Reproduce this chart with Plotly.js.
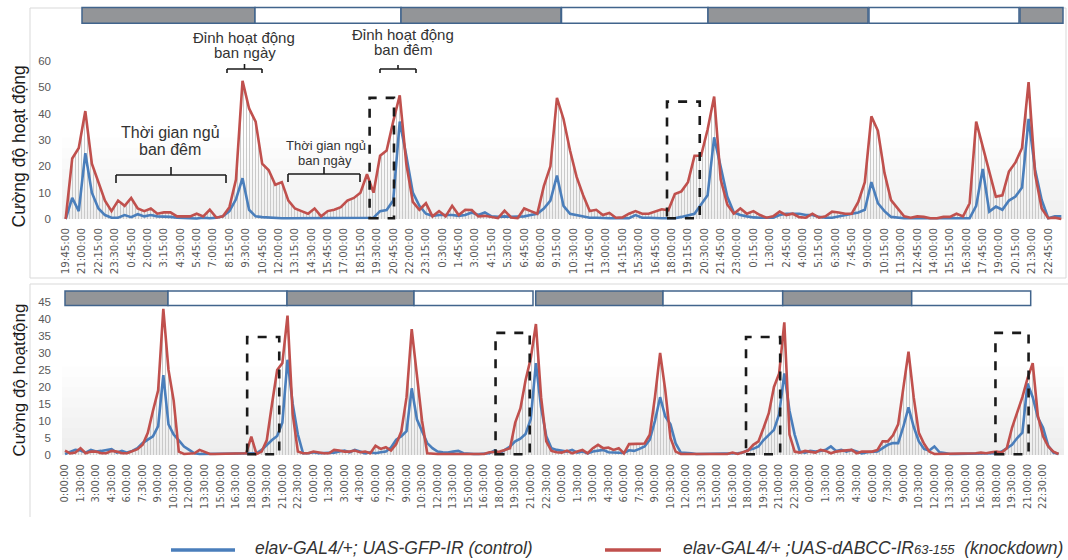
<!DOCTYPE html>
<html><head><meta charset="utf-8">
<script src="https://cdn.plot.ly/plotly-3.0.1.min.js"></script>
<style>html,body{margin:0;padding:0;background:#fff}#chart{width:1068px;height:560px}</style>
</head><body><div id="chart"></div>
<script>
// ---------- DATA (30-min steps) ----------
// Top panel: time in hours from 19:45 (day 1)
const topStepHours = 0.5;
const topControl = [
  0, 8, 3, 25, 10, 4, 1.5, 0.5, 0.5, 1.5,
  0.7, 1.8, 1, 1.5, 1, 1, 0.8, 0.5, 0.3, 0.3,
  0.2, 0.5, 0.3, 0.5, 1, 3, 7.5, 15.5, 3.5, 1,
  0.7, 0.5, 0.3, 0.3, 0.3, 0.3, 0.3, 0.3, 0.3, 0.3,
  0.3, 0.3, 0.3, 0.3, 0.3, 0.3, 0.3, 0.5, 3, 3.4,
  7, 37, 24, 10, 5, 2, 1.2, 1.5, 1.5, 1.5,
  1.2, 1.5, 2.5, 1.5, 2.5, 1, 0.8, 1, 0.8, 1,
  1, 1.5, 2, 4, 7, 16.5, 5, 2, 1.5, 0.8,
  0.5, 0.5, 0.3, 0.3, 0.3, 0.3, 0.3, 1.5, 0.5, 0.5,
  0.3, 0.3, 0.3, 0.3, 0.8, 1.5, 2, 5.5, 9, 31,
  20, 8.5, 2.5, 1.5, 1, 0.6, 0.5, 0.5, 0.5, 1.5,
  2, 2, 2, 1.5, 1.5, 0.8, 0.5, 0.5, 1, 1.5,
  2, 2.5, 3.5, 14, 6, 3, 0.8, 0.5, 0.3, 0.3,
  0.3, 0.3, 0.3, 0.3, 0.3, 0.3, 0.3, 0.3, 0.3, 5,
  19, 2.8, 4.7, 3.5, 7, 8.5, 12, 38, 18.6, 7.2,
  0.3, 1, 1
];
const topKnockdown = [
  0, 23, 27, 41, 21, 14, 7, 3, 7, 5,
  8, 4, 3, 4, 2, 2.5, 2.5, 1, 1, 1,
  2, 1, 3.5, 0.5, 1, 4.5, 15, 52.5, 42, 37,
  21, 18.5, 13, 14, 7, 4, 3, 2, 4, 1,
  3, 3.5, 4.5, 7, 8, 10, 17, 10, 24, 26,
  37, 47, 21, 6.5, 3.5, 6, 1, 3, 1, 5,
  1.5, 3.5, 3.4, 1, 1.2, 0.7, 0.3, 3.2, 0.6, 0.3,
  4, 3, 2, 12.5, 20, 46, 38, 26, 16, 9,
  3, 3.5, 1.5, 2.3, 0.5, 0.6, 2, 3, 2, 2,
  3, 3.7, 3.3, 9.5, 10.5, 14, 24, 24, 34, 46.5,
  15, 5.5, 2, 4, 2, 3, 1.5, 0.5, 1, 2.8,
  1.5, 2, 0.7, 0.5, 2, 0.5, 1, 2.8, 2.5, 2,
  2, 6.5, 14, 39, 33.5, 17.5, 7.2, 4, 1, 0.5,
  1, 0.8, 0.3, 0.3, 0.8, 0.8, 2, 1, 6, 37,
  27.5, 17.3, 8.5, 9, 18, 21.5, 27, 52, 17, 4,
  0.3, 0.5, 0
];
const topTickStepHours = 1.25;
const topTickLabels = ["19:45:00","21:00:00","22:15:00","23:30:00","0:45:00","2:00:00","3:15:00","4:30:00","5:45:00","7:00:00",
  "8:15:00","9:30:00","10:45:00","12:00:00","13:15:00","14:30:00","15:45:00","17:00:00","18:15:00","19:30:00",
  "20:45:00","22:00:00","23:15:00","0:30:00","1:45:00","3:00:00","4:15:00","5:30:00","6:45:00","8:00:00",
  "9:15:00","10:30:00","11:45:00","13:00:00","14:15:00","15:30:00","16:45:00","18:00:00","19:15:00","20:30:00",
  "21:45:00","23:00:00","0:15:00","1:30:00","2:45:00","4:00:00","5:15:00","6:30:00","7:45:00","9:00:00",
  "10:15:00","11:30:00","12:45:00","14:00:00","15:15:00","16:30:00","17:45:00","19:00:00","20:15:00","21:30:00","22:45:00"];
const topYTicks = [0, 10, 20, 30, 40, 50, 60];
// highlighted windows (start h, end h, top value)
const topWindows = [[23.2, 25.06, 46], [45.9, 48.4, 44.6]];

// Bottom panel: time in hours from 0:00 (day 1)
const bottomStepHours = 0.5;
const bottomControl = [
  0.3, 1, 1.5, 1.3, 0.7, 1.5, 1, 1.2, 1.5, 1.7,
  0.7, 1.2, 0.7, 1.2, 2, 3.5, 4.5, 5.5, 8.5, 23.5,
  9, 6, 4.3, 2.5, 1.5, 0.5, 0.3, 0.3, 0.3, 0.3,
  0.3, 0.3, 0.3, 0.3, 0.5, 0.5, 0.5, 0.5, 1.5, 3,
  4.4, 5.6, 9.5, 28, 15, 6, 0.5, 0.5, 0.8, 0.5,
  0.5, 0.5, 0.7, 1, 1.3, 0.8, 1.5, 1, 0.5, 0.8,
  0.5, 0.8, 1, 2.2, 4.5, 5.5, 7, 19.6, 10.5, 7,
  3.5, 2, 1, 0.8, 0.7, 1, 1.2, 0.5, 0.3, 0.3,
  0.3, 0.3, 0.5, 1.3, 0.5, 1.5, 2.5, 4, 4.8, 6.2,
  10.5, 27, 14, 5.5, 2, 1.5, 1.2, 1, 1.5, 0.7,
  1, 0.5, 1, 1.2, 1.5, 0.8, 0.7, 0.5, 0.6, 1.4,
  1.2, 1.8, 2.5, 4.5, 10, 17, 11.3, 9, 3.4, 0.7,
  0.7, 0.5, 0.3, 0.3, 0.3, 0.3, 0.3, 0.3, 0.3, 0.5,
  0.5, 0.7, 1.5, 1.8, 2.5, 4.4, 6, 7.4, 12, 24,
  13, 6, 1, 0.7, 1.2, 1, 1.2, 1.5, 2.5, 1.2,
  1.5, 1, 1.5, 1, 0.5, 0.8, 1, 1, 2, 3,
  3.5, 3.5, 8.3, 14, 8.3, 4, 1.8, 1.3, 2.5, 0.8,
  0.6, 0.3, 0.3, 0.3, 0.3, 0.3, 0.3, 0.3, 0.3, 0.3,
  0.5, 1, 2, 3, 5, 6.6, 21, 17, 11, 8,
  2.7, 0.7, 0.3
];
const bottomKnockdown = [
  1.3, 0.5, 0.7, 2, 0.5, 1, 1, 0.5, 0.5, 1.2,
  1, 0.5, 0.5, 1.2, 1.7, 3, 6.5, 13, 19, 43,
  25, 16, 1, 0.3, 0.3, 0.5, 1.5, 0.8, 0.3, 0.3,
  0.3, 0.3, 0.3, 0.3, 0.5, 0.5, 5.4, 0.3, 1, 4.4,
  15, 25, 27, 41, 12, 1, 0.5, 0.5, 1, 0.7,
  0.5, 0.5, 1.5, 1.3, 1, 1, 1.3, 0.8, 1, 0.5,
  2.7, 1.8, 2.3, 1.3, 3.2, 7, 17, 37, 23, 10,
  0.5, 0.3, 0.3, 0.3, 0.3, 0.3, 0.3, 0.3, 0.3, 0.3,
  0.3, 0.3, 0.8, 1, 1, 1.5, 2, 9.5, 13.7, 22,
  28.4, 38.5, 17, 4, 1.2, 0.8, 0.7, 1.3, 0.5, 1,
  1.5, 0.5, 2, 3, 2, 2.2, 1.5, 2, 0.5, 3.2,
  3.2, 3.2, 3.4, 6, 17, 30, 19, 5, 1, 0.3,
  0.3, 0.3, 0.3, 0.3, 0.3, 0.3, 0.3, 0.3, 0.3, 0.7,
  0.3, 0.8, 1.3, 3, 4, 8, 12.3, 20, 24, 39,
  6, 1, 0.7, 1.2, 1, 0.7, 1.5, 1.2, 0.5, 1,
  1.2, 1.3, 1.5, 0.5, 1, 1, 1, 1.5, 4, 4,
  5.8, 9, 19, 30.4, 17, 6.5, 3.3, 1, 0.3, 0.3,
  0.3, 0.3, 0.3, 0.5, 0.5, 0.5, 0.5, 0.7, 0.5, 0.8,
  1, 0.7, 2, 8, 12.7, 17, 22.5, 27, 11.5, 5.5,
  2.5, 1, 0.3
];
const bottomTickStepHours = 1.5;
const dayTickLabels = ["0:00:00","1:30:00","3:00:00","4:30:00","6:00:00","7:30:00","9:00:00","10:30:00",
  "12:00:00","13:30:00","15:00:00","16:30:00","18:00:00","19:30:00","21:00:00","22:30:00"];
const bottomTickLabels = [].concat(dayTickLabels, dayTickLabels, dayTickLabels, dayTickLabels);
const bottomYTicks = [0, 5, 10, 15, 20, 25, 30, 35, 40, 45];
const bottomWindows = [[17.6, 20.7, 34.7], [41.6, 44.9, 35.9], [65.8, 69.1, 34.7], [89.9, 93.1, 35.9]];

const seriesNames = ["elav-GAL4/+; UAS-GFP-IR (control)", "elav-GAL4/+ ;UAS-dABCC-IR63-155 (knockdown)"];

// ---------- DRAWING ----------
const W = 1068, H = 560;
const px = x => x / W, py = y => 1 - y / H;
const BLUE = '#4a7ebb', RED = '#c0504d';

function xsFor(arr, step) { return arr.map((_, i) => i * step); }

function fillTrace(vals, step, xa, ya) {
  return {x: xsFor(vals, step), y: vals, xaxis: xa, yaxis: ya, type: 'scatter', mode: 'lines',
    line: {width: 0, color: 'rgba(0,0,0,0)'}, fill: 'tozeroy', fillcolor: 'rgba(255,255,255,0)',
    fillpattern: {shape: '|', fgcolor: '#c9c9c9', bgcolor: 'rgba(255,255,255,0)', size: 3, solidity: 0.33},
    hoverinfo: 'skip', showlegend: false};
}
function lineTrace(vals, step, xa, ya, color, name) {
  return {x: xsFor(vals, step), y: vals, xaxis: xa, yaxis: ya, type: 'scatter', mode: 'lines', name: name,
    line: {width: 2.6, color: color}, showlegend: false};
}

const traces = [
  fillTrace(topKnockdown, topStepHours, 'x', 'y'),
  lineTrace(topControl, topStepHours, 'x', 'y', BLUE, seriesNames[0]),
  lineTrace(topKnockdown, topStepHours, 'x', 'y', RED, seriesNames[1]),
  fillTrace(bottomKnockdown, bottomStepHours, 'x2', 'y2'),
  lineTrace(bottomControl, bottomStepHours, 'x2', 'y2', BLUE, seriesNames[0]),
  lineTrace(bottomKnockdown, bottomStepHours, 'x2', 'y2', RED, seriesNames[1])
];

const shapes = [];
const annotations = [];
function pline(x0, y0, x1, y1, color, width, dash) {
  shapes.push({type: 'line', xref: 'paper', yref: 'paper', x0: px(x0), y0: py(y0), x1: px(x1), y1: py(y1),
    line: {color: color, width: width, dash: dash || 'solid'}});
}
function prect(x0, y0, x1, y1, fill, lineColor, lw) {
  shapes.push({type: 'rect', xref: 'paper', yref: 'paper', x0: px(x0), y0: py(y1), x1: px(x1), y1: py(y0),
    fillcolor: fill, line: {color: lineColor, width: lw}});
}
function bracket(x0, x1, y, endDown, midUp) {
  const c = '#1a1a1a', w = 1.6;
  pline(x0, y, x1, y, c, w);
  pline(x0, y, x0, y + endDown, c, w);
  pline(x1, y, x1, y + endDown, c, w);
  const m = (x0 + x1) / 2;
  pline(m, y, m, y - midUp, c, w);
}
function txt(t, x, y, size, extra) {
  annotations.push(Object.assign({text: t, xref: 'paper', yref: 'paper', x: px(x), y: py(y),
    xanchor: 'center', yanchor: 'middle', showarrow: false,
    font: {family: 'Liberation Sans, Arial, sans-serif', size: size, color: '#333333'}}, extra || {}));
}

// chart frames
prect(30, 8, 1066, 278, 'rgba(0,0,0,0)', '#d9d9d9', 1);
pline(30, 284, 1068, 284, '#d9d9d9', 1);
pline(30, 284, 30, 517, '#d9d9d9', 1);

// faint plot-area gradient (stacked translucent bands)
[31, 27, 23, 19, 15, 11, 7, 3].forEach(v => shapes.push({type: 'rect', xref: 'paper', yref: 'y',
  x0: px(62), x1: px(1064), y0: 0, y1: v, fillcolor: 'rgba(0,0,0,0.006)', line: {width: 0}, layer: 'below'}));
[26, 23, 20, 17, 14, 11, 8, 5, 2].forEach(v => shapes.push({type: 'rect', xref: 'paper', yref: 'y2',
  x0: px(62), x1: px(1064), y0: 0, y1: v, fillcolor: 'rgba(0,0,0,0.006)', line: {width: 0}, layer: 'below'}));

// light/dark bars
const DARK = '#939598', EDGE = '#41648c';
[[82, 255, 1], [255, 401, 0], [401, 561, 1], [561.5, 708, 0], [708, 868, 1], [869, 1019, 0], [1020, 1063, 1]]
  .forEach(([a, b, d]) => prect(a, 7.5, b, 23.3, d ? DARK : '#ffffff', EDGE, 1.5));
[[65, 168, 1], [168, 287, 0], [287, 414, 1], [414, 533, 0], [535.7, 663, 1], [663, 782.7, 0], [782.7, 911.7, 1], [911.7, 1030.7, 0]]
  .forEach(([a, b, d]) => prect(a, 291, b, 305.5, d ? DARK : '#ffffff', EDGE, 1.5));

// dashed highlight windows
topWindows.forEach(([a, b, top]) => shapes.push({type: 'rect', xref: 'x', yref: 'y', x0: a, x1: b, y0: 0.3, y1: top,
  line: {color: '#1a1a1a', width: 2.6, dash: 'dash'}, fillcolor: 'rgba(0,0,0,0)'}));
bottomWindows.forEach(([a, b, top]) => shapes.push({type: 'rect', xref: 'x2', yref: 'y2', x0: a, x1: b, y0: 0.2, y1: top,
  line: {color: '#1a1a1a', width: 2.6, dash: 'dash'}, fillcolor: 'rgba(0,0,0,0)'}));

// brackets and labels
bracket(116, 226, 175, 8, 8);
bracket(227, 262, 69, 4, 5);
bracket(288, 360, 174, 8, 7);
bracket(380, 416, 69, 4, 4);
txt('Đỉnh hoạt động', 244, 37.5, 15);
txt('ban ngày', 245, 52.5, 15);
txt('Đỉnh hoạt động', 403, 34.5, 15);
txt('ban đêm', 403, 49.5, 15);
txt('Thời gian ngủ', 170, 132.5, 16);
txt('ban đêm', 170, 150, 16);
txt('Thời gian ngủ', 326, 145.5, 13);
txt('ban ngày', 325, 160.5, 13);

// y-axis titles
txt('Cường độ hoạt động', 18.5, 147, 17.5, {textangle: -90, font: {family: 'Liberation Sans, Arial, sans-serif', size: 17.5, color: '#1a1a1a'}});
txt('Cường độ hoạtđộng', 18.5, 380, 17, {textangle: -90, font: {family: 'Liberation Sans, Arial, sans-serif', size: 17, color: '#1a1a1a'}});

// legend
pline(171, 550, 235, 550, BLUE, 3.5);
pline(605, 550, 661, 550, RED, 3.5);
txt('<i>' + seriesNames[0] + '</i>', 253, 548, 17.5, {xanchor: 'left'});
txt('<i>elav-GAL4/+ ;UAS-dABCC-IR<span style="font-size:13px">63-155</span>  (knockdown)</i>', 681, 548, 17.5, {xanchor: 'left'});

const tickFont = {family: 'DejaVu Sans, sans-serif', size: 10.3, color: '#595959'};
const yTickFont = {family: 'Liberation Sans, Arial, sans-serif', size: 11.5, color: '#595959'};
const xdom = [px(62), px(1065)];

const layout = {
  width: W, height: H, margin: {l: 0, r: 0, t: 0, b: 0},
  paper_bgcolor: '#ffffff', plot_bgcolor: 'rgba(0,0,0,0)', showlegend: false,
  xaxis: {domain: xdom, anchor: 'y', range: [-0.28, 76.28],
    tickvals: topTickLabels.map((_, k) => k * topTickStepHours), ticktext: topTickLabels,
    tickangle: -90, tickfont: tickFont, showgrid: false, zeroline: false, showline: false, ticks: '', ticklabelstandoff: 4},
  yaxis: {domain: [py(221), py(30)], anchor: 'x', range: [-0.76, 71.8], tickvals: topYTicks,
    tickfont: yTickFont, showgrid: false, zeroline: false, showline: false, ticks: '', ticklabelstandoff: 10},
  xaxis2: {domain: xdom, anchor: 'y2', range: [-0.29, 96.62],
    tickvals: bottomTickLabels.map((_, k) => k * bottomTickStepHours), ticktext: bottomTickLabels,
    tickangle: -90, tickfont: Object.assign({}, tickFont, {size: 10}), showgrid: false, zeroline: false, showline: false, ticks: '', ticklabelstandoff: 4},
  yaxis2: {domain: [py(457), py(288)], anchor: 'x2', range: [-0.59, 49.1], tickvals: bottomYTicks,
    tickfont: yTickFont, showgrid: false, zeroline: false, showline: false, ticks: '', ticklabelstandoff: 10},
  shapes: shapes, annotations: annotations
};

Plotly.newPlot('chart', traces, layout, {displayModeBar: false, staticPlot: true});
</script></body></html>
